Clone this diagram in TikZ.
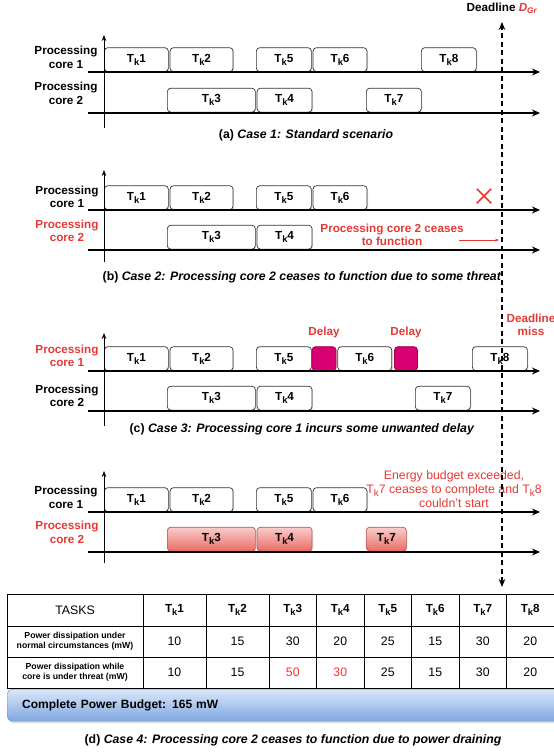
\documentclass[tikz,border=0pt]{standalone}
\usepackage{fontspec}
\usepackage{graphicx}
\setmainfont{Liberation Sans}
\usetikzlibrary{positioning,arrows.meta,shadows,shapes.misc}
\definecolor{AlertRed}{RGB}{229,57,53}
\definecolor{BrightRed}{RGB}{255,45,45}
\definecolor{DelayMag}{RGB}{216,0,115}
\definecolor{DelayEdge}{RGB}{165,0,64}
\definecolor{ThreatTop}{RGB}{248,206,204}
\definecolor{ThreatBot}{RGB}{234,107,102}
\definecolor{ThreatEdge}{RGB}{184,84,80}
\definecolor{BudgetTop}{RGB}{218,232,252}
\definecolor{BudgetBot}{RGB}{126,166,224}
\definecolor{BudgetEdge}{RGB}{108,142,191}
\newcommand{\corefont}{\fontsize{11.7}{13.5}\selectfont\bfseries}
\newcommand{\captfont}{\fontsize{12.3}{14}\selectfont\bfseries}
\newcommand{\valfont}{\fontsize{12.3}{14}\selectfont}
\newcommand{\cellfont}{\fontsize{8.7}{10}\selectfont\bfseries}
\newcommand{\tk}[1]{T\raisebox{-0.24em}{\scalebox{0.8}{k}}#1}

\begin{document}
\begin{tikzpicture}[
        x=1pt, y=-1pt,
        task/.style={
            draw=black!80,
            fill=white,
            line width=0.7pt,
            rounded corners=3.5pt,
            minimum height=24pt,
            inner sep=0pt,
            anchor=south west,
            font=\corefont,
            drop shadow={shadow xshift=1pt, shadow yshift=-1pt, opacity=0.25}
        },
        delaybox/.style={task, fill=DelayMag, draw=DelayEdge},
        threat/.style={task, draw=ThreatEdge, top color=ThreatTop, bottom color=ThreatBot},
        corelabel/.style={align=center, font=\corefont, inner sep=0pt},
        alert/.style={text=AlertRed},
        timeline/.style={line width=1.1pt, -{Stealth[length=8pt, width=7pt]}},
        axis/.style={line width=0.6pt, -{Stealth[length=6pt, width=4.5pt]}},
        caption/.style={font=\captfont, inner sep=0pt},
        cell/.style={draw, line width=0.7pt, outer sep=0pt, inner sep=0pt, minimum height=31pt, font=\valfont},
        wide/.style={minimum width=63pt},
        narrow/.style={minimum width=47.5pt},
        budget/.style={
            draw=BudgetEdge,
            top color=BudgetTop,
            bottom color=BudgetBot,
            rounded corners=5pt,
            minimum height=32pt,
            text width=540pt,
            inner xsep=15pt,
            align=left,
            anchor=north west,
            font=\fontsize{12}{14}\selectfont\bfseries,
            drop shadow={shadow xshift=1pt, shadow yshift=-2pt, opacity=0.25}
        }
    ]
    \useasboundingbox (0,0) rectangle (554,756);

    % (a) standard scenario
    \coordinate (a1s) at (88,72);  \coordinate (a1e) at (540,72);
    \coordinate (a2s) at (88,113); \coordinate (a2e) at (540,113);
    \coordinate (aBot) at (104,128); \coordinate (aTop) at (104,35);
    \node[corelabel] (acore1) at (66,57.5) {Processing\\core 1};
    \node[corelabel] (acore2) at (66,93.5) {Processing\\core 2};
    \node[task, minimum width=64pt] (a1) at (104,72) {\tk1};
    \node[task, minimum width=63pt, right=1pt of a1] (a2) {\tk2};
    \node[task, minimum width=55pt] (a5) at (256,72) {\tk5};
    \node[task, minimum width=54pt, right=1pt of a5] (a6) {\tk6};
    \node[task, minimum width=55pt] (a8) at (421,72) {\tk8};
    \node[task, minimum width=88pt] (a3) at (167,112.5) {\tk3};
    \node[task, minimum width=55pt, right=1pt of a3] (a4) {\tk4};
    \node[task, minimum width=55pt] (a7) at (366,112.5) {\tk7};
    \draw[timeline] (a1s) -- (a1e);
    \draw[timeline] (a2s) -- (a2e);
    \draw[axis] (aBot) -- (aTop);
    \node[caption] (capa) at (306,135) {(a) \textit{Case 1: Standard scenario}};

    % (b) core 2 stops
    \coordinate (b1s) at (88,210);  \coordinate (b1e) at (540,210);
    \coordinate (b2s) at (88,250); \coordinate (b2e) at (540,250);
    \coordinate (bBot) at (104,262); \coordinate (bTop) at (104,170);
    \node[corelabel] (bcore1) at (67,197) {Processing\\core 1};
    \node[corelabel, alert] (bcore2) at (67,231) {Processing\\core 2};
    \node[task, minimum width=64pt] (b1) at (104,210) {\tk1};
    \node[task, minimum width=63pt, right=1pt of b1] (b2) {\tk2};
    \node[task, minimum width=55pt] (b5) at (256,210) {\tk5};
    \node[task, minimum width=54pt, right=1pt of b5] (b6) {\tk6};
    \node[task, minimum width=88pt] (b3) at (167,249.5) {\tk3};
    \node[task, minimum width=55pt, right=1pt of b3] (b4) {\tk4};
    \draw[timeline] (b1s) -- (b1e);
    \draw[timeline] (b2s) -- (b2e);
    \draw[axis] (bBot) -- (bTop);
    \node[cross out, draw=BrightRed, line width=1.5pt, minimum size=13pt, inner sep=0pt] (bstop) at (484,196) {};
    \node[corelabel, alert] (bnote) at (392,235) {Processing core 2 ceases\\to function};
    \coordinate (bArrS) at (459,240); \coordinate (bArrE) at (499,240);
    \draw[AlertRed, line width=0.6pt, -{Stealth[length=4pt, width=3pt]}] (bArrS) -- (bArrE);
    \node[caption] (capb) at (302,277) {(b) \textit{Case 2: Processing core 2 ceases to function due to some threat}};

    % (c) delays on core 1
    \coordinate (c1s) at (88,371);  \coordinate (c1e) at (540,371);
    \coordinate (c2s) at (88,411); \coordinate (c2e) at (540,411);
    \coordinate (cBot) at (104,426); \coordinate (cTop) at (104,333);
    \node[corelabel, alert] (ccore1) at (67,356) {Processing\\core 1};
    \node[corelabel] (ccore2) at (67,396) {Processing\\core 2};
    \node[task, minimum width=64pt] (c1) at (104,371) {\tk1};
    \node[task, minimum width=63pt, right=1pt of c1] (c2) {\tk2};
    \node[task, minimum width=55pt] (c5) at (256,371) {\tk5};
    \node[delaybox, minimum width=24pt, right=0pt of c5] (dly1) {};
    \node[task, minimum width=54pt, right=1pt of dly1] (c6) {\tk6};
    \node[delaybox, minimum width=23pt, right=2pt of c6] (dly2) {};
    \node[task, minimum width=55pt] (c8) at (472,371) {\tk8};
    \node[task, minimum width=88pt] (c3) at (167,410.5) {\tk3};
    \node[task, minimum width=55pt, right=1pt of c3] (c4) {\tk4};
    \node[task, minimum width=55pt] (c7) at (415,410.5) {\tk7};
    \draw[timeline] (c1s) -- (c1e);
    \draw[timeline] (c2s) -- (c2e);
    \draw[axis] (cBot) -- (cTop);
    \node[corelabel, alert, above=8pt of dly1] (dlylbl1) {Delay};
    \node[corelabel, alert, above=8pt of dly2] (dlylbl2) {Delay};
    \node[corelabel, alert] (cmiss) at (531,325) {Deadline\\miss};
    \node[caption] (capc) at (302,429) {(c) \textit{Case 3: Processing core 1 incurs some unwanted delay}};

    % (d) power draining
    \coordinate (d1s) at (88,512);  \coordinate (d1e) at (540,512);
    \coordinate (d2s) at (88,552); \coordinate (d2e) at (540,552);
    \coordinate (dBot) at (104,563); \coordinate (dTop) at (104,471);
    \node[corelabel] (dcore1) at (66,497.5) {Processing\\core 1};
    \node[corelabel, alert] (dcore2) at (67,532.5) {Processing\\core 2};
    \node[task, minimum width=64pt] (d1) at (104,512) {\tk1};
    \node[task, minimum width=63pt, right=1pt of d1] (d2) {\tk2};
    \node[task, minimum width=55pt] (d5) at (256,512) {\tk5};
    \node[task, minimum width=54pt, right=1pt of d5] (d6) {\tk6};
    \node[threat, minimum width=88pt] (d3) at (167,551.5) {\tk3};
    \node[threat, minimum width=55pt, right=1pt of d3] (d4) {\tk4};
    \node[threat, minimum width=40pt] (d7) at (366,551.5) {\tk7};
    \draw[timeline] (d1s) -- (d1e);
    \draw[timeline] (d2s) -- (d2e);
    \draw[axis] (dBot) -- (dTop);
    \node[alert, align=center, font=\valfont, inner sep=0pt] (dnote) at (454,489)
        {Energy budget exceeded,\\\tk7 ceases to complete and \tk8\\couldn't start};

    % power table
    \node[cell, minimum width=136pt, minimum height=32pt, anchor=north west] (tasks) at (7,594) {TASKS};
    \node[cell, wide, minimum height=32pt, font=\corefont, right=0pt of tasks] (h1) {\tk1};
    \node[cell, wide, minimum height=32pt, font=\corefont, right=0pt of h1] (h2) {\tk2};
    \node[cell, narrow, minimum height=32pt, font=\corefont, right=0pt of h2] (h3) {\tk3};
    \node[cell, narrow, minimum height=32pt, font=\corefont, right=0pt of h3] (h4) {\tk4};
    \node[cell, narrow, minimum height=32pt, font=\corefont, right=0pt of h4] (h5) {\tk5};
    \node[cell, narrow, minimum height=32pt, font=\corefont, right=0pt of h5] (h6) {\tk6};
    \node[cell, narrow, minimum height=32pt, font=\corefont, right=0pt of h6] (h7) {\tk7};
    \node[cell, narrow, minimum height=32pt, font=\corefont, right=0pt of h7] (h8) {\tk8};
    \node[cell, minimum width=136pt, font=\cellfont, align=center, below=0pt of tasks] (pnorm)
        {Power dissipation under\\normal circumstances (mW)};
    \node[cell, wide, below=0pt of h1] (n1) {10};
    \node[cell, wide, below=0pt of h2] (n2) {15};
    \node[cell, narrow, below=0pt of h3] (n3) {30};
    \node[cell, narrow, below=0pt of h4] (n4) {20};
    \node[cell, narrow, below=0pt of h5] (n5) {25};
    \node[cell, narrow, below=0pt of h6] (n6) {15};
    \node[cell, narrow, below=0pt of h7] (n7) {30};
    \node[cell, narrow, below=0pt of h8] (n8) {20};
    \node[cell, minimum width=136pt, font=\cellfont, align=center, below=0pt of pnorm] (pthreat)
        {Power dissipation while\\core is under threat (mW)};
    \node[cell, wide, below=0pt of n1] (t1) {10};
    \node[cell, wide, below=0pt of n2] (t2) {15};
    \node[cell, narrow, text=BrightRed, below=0pt of n3] (t3) {50};
    \node[cell, narrow, text=BrightRed, below=0pt of n4] (t4) {30};
    \node[cell, narrow, below=0pt of n5] (t5) {25};
    \node[cell, narrow, below=0pt of n6] (t6) {15};
    \node[cell, narrow, below=0pt of n7] (t7) {30};
    \node[cell, narrow, below=0pt of n8] (t8) {20};
    \node[budget] (pbudget) at (7,689) {Complete Power Budget: 165 mW};
    \node[caption] (capd) at (293,740) {(d) \textit{Case 4: Processing core 2 ceases to function due to power draining}};

    % deadline
    \coordinate (dlTop) at (502,22); \coordinate (dlBot) at (502,587);
    \draw[line width=1.2pt, dash pattern=on 5pt off 3.5pt, {Stealth[length=8pt, width=6.5pt]}-{Stealth[length=8pt, width=6.5pt]}] (dlBot) -- (dlTop);
    \node[font=\corefont, inner sep=0pt] (dllabel) at (502,8) {Deadline \textcolor{AlertRed}{\textit{D\textsubscript{Gr}}}};
\end{tikzpicture}
\end{document}
